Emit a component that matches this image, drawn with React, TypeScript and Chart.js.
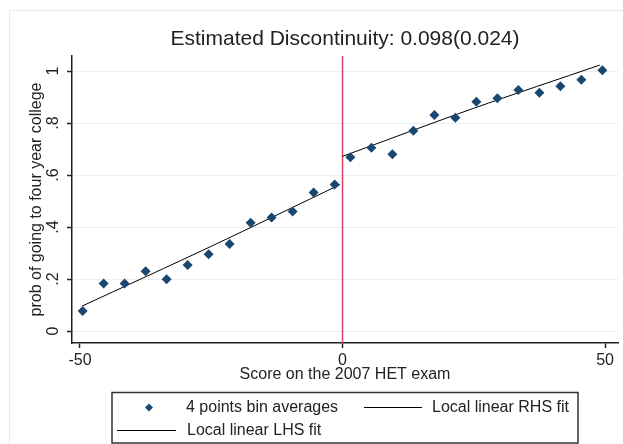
import React, { useEffect, useRef } from 'react';
import { Chart, registerables } from 'chart.js';

Chart.register(...registerables);

const titleText = 'Estimated Discontinuity: 0.098(0.024)';
const xAxisTitle = 'Score on the 2007 HET exam';
const yAxisTitle = 'prob of going to four year college';

const binLabel = '4 points bin averages';
const rhsLabel = 'Local linear RHS fit';
const lhsLabel = 'Local linear LHS fit';

const leftBinX = [-49.5, -45.5, -41.5, -37.5, -33.5, -29.5, -25.5, -21.5, -17.5, -13.5, -9.5, -5.5, -1.5];
const leftBinY = [0.077, 0.183, 0.183, 0.23, 0.199, 0.254, 0.295, 0.335, 0.417, 0.437, 0.46, 0.533, 0.564];
const rightBinX = [1.5, 5.5, 9.5, 13.5, 17.5, 21.5, 25.5, 29.5, 33.5, 37.5, 41.5, 45.5, 49.5];
const rightBinY = [0.669, 0.705, 0.68, 0.77, 0.831, 0.82, 0.882, 0.895, 0.927, 0.917, 0.942, 0.967, 1.003];

const lhsFitX = [-49.6, -25, -0.5];
const lhsFitY = [0.096, 0.326, 0.563];
const rhsFitX = [0, 25, 49];
const rhsFitY = [0.672, 0.857, 1.023];

const cutoff = 0;
const xTicks = [-50, 0, 50];
const xTickLabels = ['-50', '0', '50'];
const yTicks = [0, 0.2, 0.4, 0.6, 0.8, 1];
const yTickLabels = ['0', '.2', '.4', '.6', '.8', '1'];

const FONT = 'Arial, "Liberation Sans", Helvetica, sans-serif';
const TEXT = '#222222';
const MARKER = '#1a476f';

const zip = (xs: number[], ys: number[]) => xs.map((x, i) => ({ x, y: ys[i] }));

const framePlugin = {
  id: 'frame',
  beforeDraw(chart: any) {
    const ctx = chart.ctx;
    ctx.save();
    ctx.strokeStyle = '#e3ebee';
    ctx.lineWidth = 1;
    ctx.beginPath();
    ctx.moveTo(9.5, chart.height);
    ctx.lineTo(9.5, 10.5);
    ctx.lineTo(chart.width, 10.5);
    ctx.stroke();
    ctx.restore();
  },
};

const cutoffPlugin = {
  id: 'cutoff',
  beforeDatasetsDraw(chart: any) {
    const ctx = chart.ctx;
    const x = chart.scales.x.getPixelForValue(cutoff);
    const { top, bottom } = chart.chartArea;
    ctx.save();
    ctx.strokeStyle = '#d9416b';
    ctx.lineWidth = 1.5;
    ctx.beginPath();
    ctx.moveTo(x, top);
    ctx.lineTo(x, bottom);
    ctx.stroke();
    ctx.restore();
  },
};

const legendPlugin = {
  id: 'stataLegend',
  afterDraw(chart: any) {
    const ctx = chart.ctx;
    const ds = chart.data.datasets;
    ctx.save();
    ctx.strokeStyle = '#333333';
    ctx.lineWidth = 1.5;
    ctx.strokeRect(112, 392.5, 466, 50.5);
    ctx.font = `16px ${FONT}`;
    ctx.textBaseline = 'alphabetic';
    ctx.textAlign = 'left';
    ctx.fillStyle = MARKER;
    ctx.beginPath();
    const mx = 149, my = 407.5, r = 4;
    ctx.moveTo(mx, my - r);
    ctx.lineTo(mx + r, my);
    ctx.lineTo(mx, my + r);
    ctx.lineTo(mx - r, my);
    ctx.closePath();
    ctx.fill();
    ctx.fillStyle = TEXT;
    ctx.fillText(ds[0].label, 186, 412);
    ctx.strokeStyle = '#000';
    ctx.lineWidth = 1;
    ctx.beginPath();
    ctx.moveTo(364, 407.5);
    ctx.lineTo(422, 407.5);
    ctx.stroke();
    ctx.fillText(ds[1].label, 432, 412);
    ctx.beginPath();
    ctx.moveTo(117, 430.5);
    ctx.lineTo(176, 430.5);
    ctx.stroke();
    ctx.fillText(ds[2].label, 187, 435);
    ctx.restore();
  },
};

export default function App() {
  const ref = useRef<HTMLCanvasElement | null>(null);
  useEffect(() => {
    if (!ref.current) return;
    Chart.defaults.font.family = FONT;
    Chart.defaults.color = TEXT;
    const chart = new Chart(ref.current, {
      type: 'scatter',
      data: {
        datasets: [
          {
            label: binLabel,
            data: [...zip(leftBinX, leftBinY), ...zip(rightBinX, rightBinY)],
            pointStyle: 'rectRot',
            pointRadius: 5,
            pointBackgroundColor: MARKER,
            pointBorderColor: MARKER,
            pointBorderWidth: 0,
            showLine: false,
          },
          {
            label: rhsLabel,
            data: zip(rhsFitX, rhsFitY),
            showLine: true,
            borderColor: '#000',
            borderWidth: 1,
            pointRadius: 0,
            tension: 0.3,
          },
          {
            label: lhsLabel,
            data: zip(lhsFitX, lhsFitY),
            showLine: true,
            borderColor: '#000',
            borderWidth: 1,
            pointRadius: 0,
            tension: 0.3,
          },
        ],
      },
      options: {
        responsive: false,
        animation: false,
        events: [],
        layout: { padding: { top: 0, left: 0, right: 3, bottom: 60 } },
        plugins: {
          legend: { display: false },
          tooltip: { enabled: false },
          title: {
            display: true,
            text: titleText,
            fullSize: false,
            color: TEXT,
            font: { size: 21, weight: 'normal', family: FONT },
            padding: { top: 27, bottom: 3.8 },
          },
        },
        scales: {
          x: {
            type: 'linear',
            min: -51.52,
            max: 52.47,
            afterBuildTicks: (scale: any) => {
              scale.ticks = xTicks.map((v) => ({ value: v }));
            },
            afterFit: (scale: any) => {
              scale.height = 41;
            },
            ticks: {
              padding: 3,
              font: { size: 16, family: FONT },
              color: TEXT,
              maxRotation: 0,
              autoSkip: false,
              callback: (v: any) => {
                const i = xTicks.indexOf(Number(v));
                return i >= 0 ? xTickLabels[i] : '';
              },
            },
            grid: {
              drawOnChartArea: false,
              tickLength: 5,
              tickColor: '#222',
              tickWidth: 1.5,
            },
            border: { color: '#222', width: 1.5 },
            title: {
              display: true,
              text: xAxisTitle,
              color: TEXT,
              font: { size: 16, family: FONT },
              padding: { top: 0, bottom: 0 },
            },
          },
          y: {
            type: 'linear',
            min: -0.046,
            max: 1.058,
            afterBuildTicks: (scale: any) => {
              scale.ticks = yTicks.map((v) => ({ value: v }));
            },
            afterFit: (scale: any) => {
              scale.width = 72;
            },
            ticks: {
              padding: 7,
              minRotation: 90,
              maxRotation: 90,
              crossAlign: 'center',
              autoSkip: false,
              font: { size: 16, family: FONT },
              color: TEXT,
              callback: (v: any) => {
                const i = yTicks.findIndex((t) => Math.abs(t - Number(v)) < 1e-9);
                return i >= 0 ? yTickLabels[i] : '';
              },
            },
            grid: {
              color: '#e8f0f2',
              lineWidth: 1,
              tickLength: 5,
              tickColor: '#222',
              tickWidth: 1.5,
            },
            border: { color: '#222', width: 1.5 },
            title: {
              display: true,
              text: yAxisTitle,
              color: TEXT,
              font: { size: 16, family: FONT },
              padding: { top: 27, bottom: 0 },
            },
          },
        },
      } as any,
      plugins: [framePlugin, cutoffPlugin, legendPlugin],
    });
    return () => chart.destroy();
  }, []);
  return (
    <div style={{ position: 'fixed', left: 0, top: 0, width: 623, height: 444, background: '#fff' }}>
      <canvas ref={ref} width={623} height={444} style={{ display: 'block' }} />
    </div>
  );
}
